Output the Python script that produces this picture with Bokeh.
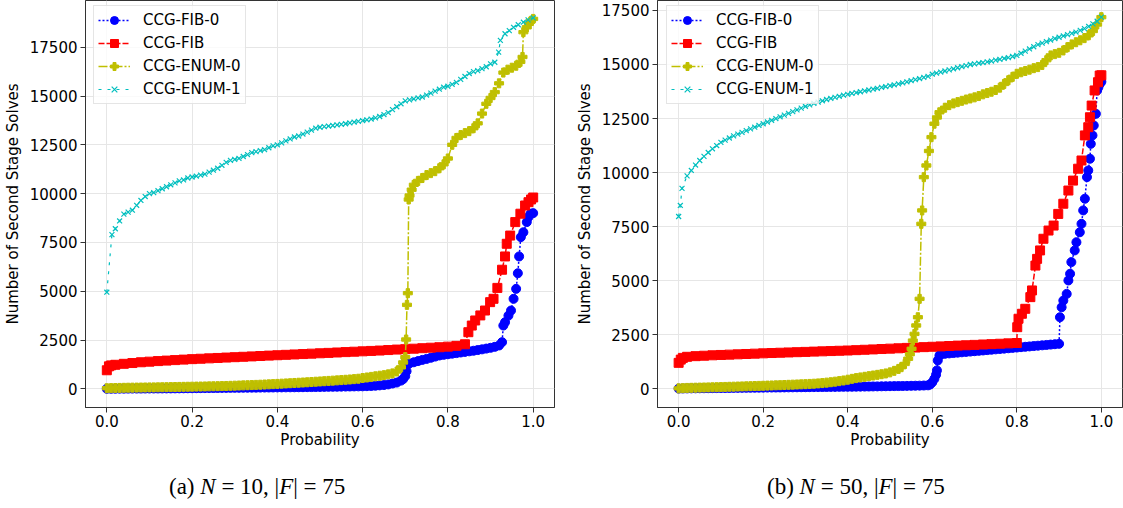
from bokeh.plotting import figure
from bokeh.models import (ColumnDataSource, Range1d, FixedTicker, PrintfTickFormatter,
                          Legend, LegendItem, Div)
from bokeh.layouts import row, column
from bokeh.embed import file_html
from bokeh.resources import INLINE

# ---------------- data ----------------
G = [0.00, 0.01, 0.02, 0.03, 0.04, 0.05, 0.06, 0.07, 0.08, 0.09,
     0.10, 0.11, 0.12, 0.13, 0.14, 0.15, 0.16, 0.17, 0.18, 0.19,
     0.20, 0.21, 0.22, 0.23, 0.24, 0.25, 0.26, 0.27, 0.28, 0.29,
     0.30, 0.31, 0.32, 0.33, 0.34, 0.35, 0.36, 0.37, 0.38, 0.39,
     0.40, 0.41, 0.42, 0.43, 0.44, 0.45, 0.46, 0.47, 0.48, 0.49,
     0.50, 0.51, 0.52, 0.53, 0.54, 0.55, 0.56, 0.57, 0.58, 0.59,
     0.60, 0.61, 0.62, 0.63, 0.64, 0.65, 0.66, 0.67, 0.68, 0.69,
     0.70, 0.71, 0.72, 0.73, 0.74, 0.75, 0.76, 0.77, 0.78, 0.79,
     0.80, 0.81, 0.82, 0.83, 0.84, 0.85, 0.86, 0.87, 0.88, 0.89,
     0.90, 0.91, 0.92, 0.93, 0.94, 0.95, 0.96, 0.97, 0.98, 0.99]

LABELS = ["CCG-FIB-0", "CCG-FIB", "CCG-ENUM-0", "CCG-ENUM-1"]
X_TICKS = [0.0, 0.2, 0.4, 0.6, 0.8, 1.0]
Y_TICKS = [0, 2500, 5000, 7500, 10000, 12500, 15000, 17500]
CAPTIONS = ["(a) <i>N</i> = 10, |<i>F</i>| = 75",
            "(b) <i>N</i> = 50, |<i>F</i>| = 75"]

# ----- (a) N = 10 -----
A_FIB0_X = G[:70] + [0.695, 0.70, 0.703, 0.706, 0.71] + G[72:93] + \
    [0.927, 0.930, 0.934, 0.942, 0.948, 0.954, 0.960, 0.964, 0.967, 0.971,
     0.977, 0.985, 0.989, 0.994, 1.0]
A_FIB0_Y = [0, 2, 4, 6, 8, 9, 10, 11, 12, 14,
            15, 16, 17, 18, 19, 20, 22, 24, 26, 28,
            30, 32, 34, 36, 38, 40, 42, 44, 46, 48,
            50, 52, 54, 56, 58, 60, 62, 64, 66, 68,
            70, 72, 74, 76, 78, 80, 82, 85, 88, 91,
            95, 98, 101, 104, 107, 110, 114, 118, 122, 125,
            128, 135, 145, 158, 175, 195, 225, 270, 320, 420,
            500, 650, 900, 1250, 1300,
            1360, 1420, 1480, 1530, 1590, 1650, 1706, 1740, 1770, 1800,
            1830, 1860, 1890, 1920, 1950, 1985, 2020, 2060, 2100, 2150, 2220,
            2390, 3240, 3410, 3750, 4010, 4610, 5120, 5920, 6780, 7770,
            8020, 8540, 8800, 8970, 9000]

A_FIB_X = [0.0, 0.005, 0.01] + G[2:85:2] + \
    [0.848, 0.856, 0.864, 0.876, 0.887, 0.899, 0.907, 0.916, 0.927, 0.934,
     0.938, 0.946, 0.958, 0.970, 0.981, 0.989, 0.995, 1.0]
A_FIB_Y = [950, 1150, 1200,
           1230, 1280, 1320, 1360, 1390, 1420, 1445, 1470, 1495, 1520,
           1540, 1560, 1580, 1600, 1620, 1640, 1660, 1680, 1700, 1720,
           1740, 1760, 1780, 1800, 1820, 1840, 1860, 1880, 1900, 1920,
           1940, 1960, 1985, 2010, 2030, 2055, 2080, 2105, 2130, 2160,
           2200, 2280,
           2900, 3240, 3500, 3760, 4010, 4440, 4610, 5170, 6100, 6780,
           7430, 7850, 8540, 8970, 9390, 9560, 9700, 9800]

A_ENUM0_X = G[:70] + [0.695, 0.70, 0.702, 0.704, 0.706, 0.708, 0.71, 0.715] + G[72:98] + \
    [0.975, 0.977, 0.985, 0.99, 0.995, 1.0]
A_ENUM0_Y = [30, 35, 40, 45, 50, 55, 58, 61, 64, 67,
             70, 73, 76, 80, 84, 88, 92, 96, 100, 104,
             108, 112, 116, 120, 125, 130, 135, 140, 145, 152,
             160, 168, 176, 184, 192, 200, 209, 218, 229, 240,
             250, 262, 274, 286, 298, 310, 322, 335, 348, 362,
             376, 390, 404, 418, 432, 447, 462, 478, 496, 515,
             553, 580, 610, 640, 670, 700, 740, 790, 886, 1100,
             1350, 1620, 2525, 4300, 4900, 9700, 9900, 10200,
             10450, 10650, 10800, 10950, 11050, 11150, 11300, 11500, 11800, 12500,
             12850, 13000, 13100, 13200, 13350, 13600, 14100, 14600, 14900, 15200,
             15650, 16200, 16350, 16450, 16550, 16750,
             17000, 18270, 18520, 18700, 18850, 18950]

A_ENUM1_X = [0.0, 0.012] + G[2:92] + \
    [0.919, 0.923, 0.934, 0.944, 0.954, 0.965, 0.977, 0.988, 1.0]
A_ENUM1_Y = [4950, 7900,
             8200, 8600, 8950, 9050, 9150, 9400, 9650, 9850,
             10000, 10050, 10150, 10250, 10350, 10450, 10550, 10650, 10700, 10800,
             10850, 10900, 10950, 11000, 11100, 11200, 11300, 11450, 11600, 11700,
             11750, 11800, 11900, 12000, 12100, 12150, 12200, 12250, 12350, 12450,
             12500, 12600, 12700, 12800, 12900, 12950, 13050, 13150, 13250, 13350,
             13400, 13430, 13460, 13490, 13520, 13550, 13580, 13620, 13660, 13700,
             13740, 13780, 13820, 13880, 13950, 14050, 14150, 14300, 14450, 14600,
             14750, 14800, 14850, 14900, 14950, 15050, 15150, 15250, 15350, 15450,
             15500, 15600, 15700, 15850, 16000, 16150, 16250, 16300, 16400, 16500,
             16650, 16730,
             17250, 17850, 18190, 18350, 18520, 18650, 18780, 18900, 19000]

# ----- (b) N = 50 -----
B_FIB0_X = G[:60] + [0.595, 0.60, 0.605, 0.609, 0.611, 0.613, 0.617, 0.62] + G[63:90] + \
    [0.90, 0.902, 0.906, 0.910, 0.918, 0.922, 0.926, 0.929, 0.937, 0.941,
     0.949, 0.953, 0.957, 0.961, 0.966, 0.969, 0.973, 0.975, 0.979, 0.982,
     0.987, 0.990, 0.993, 0.996, 1.0]
B_FIB0_Y = [10, 15, 18, 20, 22, 24, 26, 28, 30, 32,
            34, 36, 38, 40, 42, 44, 46, 48, 50, 52,
            54, 56, 58, 60, 62, 64, 66, 68, 70, 72,
            74, 76, 78, 80, 82, 84, 86, 88, 90, 92,
            94, 96, 98, 100, 103, 106, 109, 112, 115, 118,
            121, 124, 127, 130, 134, 138, 142, 146, 152, 160,
            200, 300, 460, 650, 850, 1310, 1540, 1580,
            1620, 1637, 1654, 1671, 1688, 1705, 1722, 1739, 1756, 1773,
            1790, 1807, 1824, 1841, 1858, 1875, 1892, 1909, 1926, 1943,
            1960, 1977, 1994, 2011, 2028, 2045, 2062,
            2080, 3310, 3770, 4080, 4390, 5010, 5320, 5860, 6400, 6780,
            7240, 7630, 8250, 8790, 9790, 10100, 10640, 11330, 11720, 12180,
            12720, 13800, 13950, 14100, 14200]

B_FIB_X = [0.0, 0.005, 0.01] + G[2:81:2] + \
    [0.801, 0.804, 0.812, 0.820, 0.832, 0.836, 0.844, 0.848, 0.855, 0.863,
     0.875, 0.887, 0.898, 0.910, 0.922, 0.933, 0.945, 0.953, 0.961, 0.969,
     0.973, 0.977, 0.984, 0.992, 0.996, 1.0]
B_FIB_Y = [1200, 1350, 1430,
           1480, 1510, 1530, 1550, 1565, 1580, 1595, 1610, 1625, 1640,
           1655, 1668, 1681, 1694, 1707, 1720, 1733, 1746, 1759, 1771,
           1788, 1805, 1822, 1840, 1857, 1874, 1892, 1909, 1927, 1944,
           1962, 1979, 1997, 2014, 2031, 2049, 2066, 2084, 2101, 2118,
           2850, 3240, 3470, 3700, 4240, 4550, 5700, 6010, 6400, 6940,
           7320, 7550, 8090, 8560, 9170, 9630, 10180, 10560, 11720, 12100,
           12560, 13100, 13800, 14180, 14490, 14500]

B_ENUM0_X = G[:53] + \
    [0.527, 0.535, 0.543, 0.547, 0.551, 0.554, 0.558, 0.562, 0.566, 0.570,
     0.574, 0.576, 0.580, 0.586, 0.592, 0.598, 0.605, 0.611, 0.617] + G[63:] + [1.0]
B_ENUM0_Y = [20, 30, 40, 45, 50, 55, 60, 65, 70, 75,
             80, 86, 92, 98, 104, 110, 116, 122, 128, 134,
             140, 147, 154, 161, 168, 175, 183, 191, 199, 207,
             215, 225, 235, 250, 265, 285, 305, 330, 355, 385,
             420, 460, 495, 525, 555, 585, 615, 645, 675, 710,
             760, 830, 920,
             1000, 1150, 1390, 1600, 1850, 2230, 2540, 2930, 3310, 4160,
             7630, 8250, 9790, 10330, 11000, 11640, 12260, 12550, 12790,
             13000, 13120, 13200, 13260, 13320, 13380, 13430, 13480, 13540, 13620,
             13680, 13740, 13820, 13930, 14100, 14270, 14430, 14570, 14640, 14700,
             14760, 14830, 14880, 14980, 15200, 15420, 15480, 15540, 15650, 15800,
             15930, 16030, 16120, 16220, 16350, 16550, 16850, 17190]

B_ENUM1_X = [0.0, 0.004, 0.008] + G[2:] + [1.0]
B_ENUM1_Y = [7970, 8480, 9270,
             9850, 10100, 10350, 10560, 10750, 10930, 11100, 11250,
             11400, 11500, 11600, 11700, 11780, 11860, 11940, 12020, 12100, 12180,
             12260, 12340, 12420, 12500, 12580, 12660, 12740, 12820, 12900, 12980,
             13060, 13130, 13200, 13260, 13320, 13380, 13430, 13480, 13530, 13580,
             13620, 13660, 13700, 13740, 13780, 13820, 13860, 13900, 13940, 13980,
             14020, 14060, 14100, 14150, 14200, 14250, 14300, 14350, 14400, 14450,
             14550, 14600, 14650, 14700, 14750, 14800, 14850, 14900, 14950, 15000,
             15030, 15060, 15090, 15120, 15160, 15200, 15240, 15280, 15320, 15370,
             15420, 15520, 15620, 15720, 15820, 15920, 15990, 16060, 16130, 16200,
             16260, 16320, 16380, 16440, 16500, 16580, 16660, 16760, 16880, 17000,
             17190]

PANELS = [
    dict(series=[(A_FIB0_X, A_FIB0_Y), (A_FIB_X, A_FIB_Y), (A_ENUM0_X, A_ENUM0_Y), (A_ENUM1_X, A_ENUM1_Y)],
         yr=(-958, 19893), xr=(-0.05, 1.05), width=572, bl=85, br=18, leg_x=8),
    dict(series=[(B_FIB0_X, B_FIB0_Y), (B_FIB_X, B_FIB_Y), (B_ENUM0_X, B_ENUM0_Y), (B_ENUM1_X, B_ENUM1_Y)],
         yr=(-865, 17960), xr=(-0.05, 1.05), width=551, bl=82, br=1, leg_x=9),
]

# ---------------- styles ----------------
STYLES = [
    dict(color="#0000ff", dash="2 2", marker="circle", size=9, lw=1.5),
    dict(color="#ff0000", dash="6 2", marker="square", size=9, lw=1.5),
    dict(color="#bfbf00", dash="9 2 2 2", marker="plus", size=9, lw=1.5),
    dict(color="#00bfbf", dash="3 6", marker="x", size=7, lw=1.2),
]
FONT = "DejaVu Sans"

FRAME_H = 407
FIG_H = 452
LEG_H = 97


def make_panel(cfg):
    p = figure(width=cfg["width"], height=FIG_H, output_backend="svg", toolbar_location=None,
               x_range=Range1d(*cfg["xr"]), y_range=Range1d(*cfg["yr"]),
               min_border_left=cfg["bl"], min_border_right=cfg["br"],
               min_border_top=0, min_border_bottom=FIG_H - FRAME_H)
    p.background_fill_color = "white"
    p.border_fill_color = "white"
    p.outline_line_color = "#333333"
    p.outline_line_width = 1
    p.grid.grid_line_color = "#e6e6e6"
    p.grid.grid_line_width = 1
    p.xaxis.ticker = FixedTicker(ticks=X_TICKS)
    p.yaxis.ticker = FixedTicker(ticks=Y_TICKS)
    p.xaxis.formatter = PrintfTickFormatter(format="%.1f")
    p.xaxis.axis_label = "Probability"
    p.yaxis.axis_label = "Number of Second Stage Solves"
    for ax in (p.xaxis, p.yaxis):
        ax.axis_label_text_font = FONT
        ax.axis_label_text_font_size = "15px"
        ax.axis_label_text_font_style = "normal"
        ax.axis_label_text_color = "black"
        ax.major_label_text_font = FONT
        ax.major_label_text_font_size = "15px"
        ax.major_label_text_color = "black"
        ax.minor_tick_line_color = None
        ax.major_tick_in = 0
        ax.major_tick_out = 5
        ax.major_tick_line_color = "#333333"
        ax.axis_line_color = "#333333"
    p.xaxis.major_label_standoff = 2
    p.xaxis.axis_label_standoff = 1
    p.yaxis.major_label_standoff = 3
    p.yaxis.axis_label_standoff = 5

    items = []
    for (xs, ys), st, lab in zip(cfg["series"], STYLES, LABELS):
        n = min(len(xs), len(ys))
        src = ColumnDataSource(dict(x=xs[:n], y=ys[:n]))
        lr = p.line("x", "y", source=src, line_color=st["color"], line_dash=st["dash"],
                    line_width=st["lw"])
        if st["marker"] == "x":
            sr = p.scatter("x", "y", source=src, marker="x", size=st["size"],
                           line_color=st["color"], line_width=1.2)
        else:
            sr = p.scatter("x", "y", source=src, marker=st["marker"], size=st["size"],
                           fill_color=st["color"], line_color=st["color"], line_width=1)
        items.append(LegendItem(label=lab, renderers=[lr, sr]))

    leg = Legend(items=items, location=(cfg["leg_x"], FRAME_H - LEG_H - 7))
    leg.label_text_font = FONT
    leg.label_text_font_size = "15px"
    leg.label_text_color = "black"
    leg.glyph_width = 32
    leg.glyph_height = 20
    leg.label_height = 20
    leg.label_standoff = 13
    leg.spacing = 3
    leg.padding = 4
    leg.margin = 0
    leg.border_line_color = "#cccccc"
    leg.border_line_width = 1
    leg.background_fill_color = "white"
    leg.background_fill_alpha = 0.8
    p.add_layout(leg, "center")
    return p


figs = [make_panel(c) for c in PANELS]

caps = []
pads = [164, 180]
for cap, cfg, pad in zip(CAPTIONS, PANELS, pads):
    html = ('<div style="font-family:\'Liberation Serif\',\'Times New Roman\',serif;'
            'font-size:23px;line-height:23px;padding-top:18px;padding-left:%dpx;'
            'white-space:nowrap;color:#000;">%s</div>' % (pad, cap))
    caps.append(Div(text=html, width=cfg["width"], height=48))

layout = column(row(*figs), row(*caps))

open("out.html", "w").write(file_html(layout, INLINE))
